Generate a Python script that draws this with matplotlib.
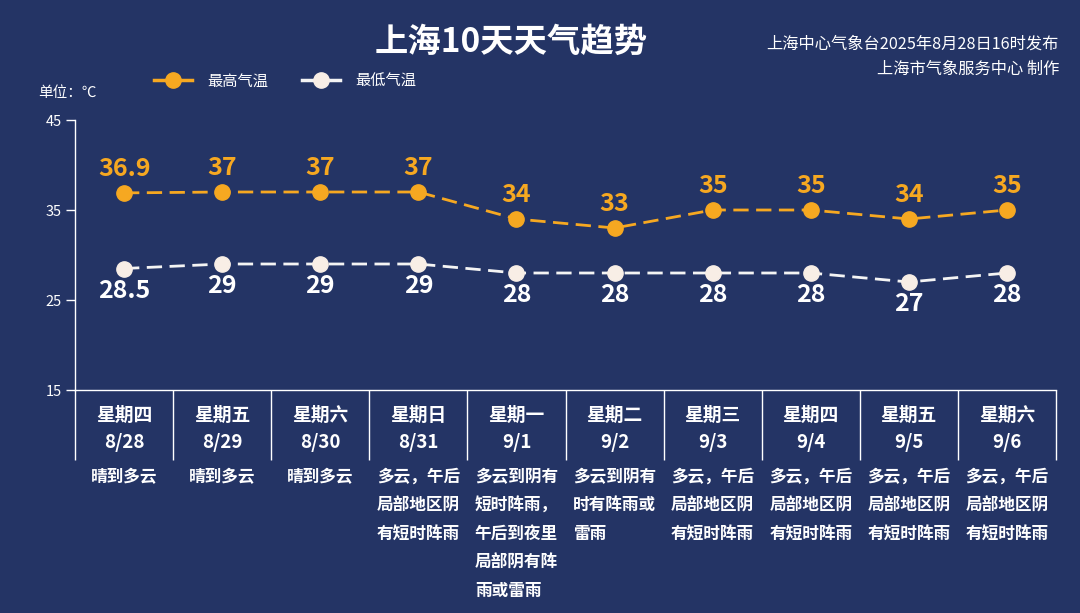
import matplotlib
matplotlib.use('Agg')
import matplotlib.pyplot as plt
import numpy as np
from matplotlib.lines import Line2D

plt.rcParams['font.family'] = ['Noto Sans CJK SC', 'DejaVu Sans']

# ---------------- data ----------------
weekdays = ['星期四', '星期五', '星期六', '星期日', '星期一',
            '星期二', '星期三', '星期四', '星期五', '星期六']
dates = ['8/28', '8/29', '8/30', '8/31', '9/1', '9/2', '9/3', '9/4', '9/5', '9/6']
weather = [
    '晴到多云',
    '晴到多云',
    '晴到多云',
    '多云，午后\n局部地区阴\n有短时阵雨',
    '多云到阴有\n短时阵雨，\n午后到夜里\n局部阴有阵\n雨或雷雨',
    '多云到阴有\n时有阵雨或\n雷雨',
    '多云，午后\n局部地区阴\n有短时阵雨',
    '多云，午后\n局部地区阴\n有短时阵雨',
    '多云，午后\n局部地区阴\n有短时阵雨',
    '多云，午后\n局部地区阴\n有短时阵雨',
]
high_temps = [36.9, 37, 37, 37, 34, 33, 35, 35, 34, 35]
low_temps = [28.5, 29, 29, 29, 28, 28, 28, 28, 27, 28]
y_ticks = [15, 25, 35, 45]
series_names = ['最高气温', '最低气温']
title = '上海10天天气趋势'
source_lines = ['上海中心气象台2025年8月28日16时发布', '上海市气象服务中心 制作']
unit_label = '单位：℃'

# ---------------- style ----------------
BG = '#243465'
ORANGE = '#F6A821'
LOW_LINE = '#F4F4F4'
LOW_MARK = '#F8EEE6'
WHITE = '#FFFFFF'

fig = plt.figure(figsize=(10.8, 6.13), dpi=100, facecolor=BG)
ax = fig.add_axes([75 / 1080, 223 / 613, 981 / 1080, 270 / 613])
ax.set_facecolor(BG)

x = np.arange(len(dates))
ax.plot(x, high_temps, color=ORANGE, lw=2, dashes=(5.5, 2.7),
        marker='o', ms=11, mfc=ORANGE, mec=ORANGE, zorder=3)
ax.plot(x, low_temps, color=LOW_LINE, lw=2, dashes=(5.5, 2.7),
        marker='o', ms=11, mfc=LOW_MARK, mec=LOW_MARK, zorder=3)

for xi, v in zip(x, high_temps):
    ax.annotate(f'{v:g}', (xi, v), xytext=(0, 17.5), textcoords='offset points',
                ha='center', va='center', color=ORANGE, fontsize=18,
                fontweight='bold')
for xi, v in zip(x, low_temps):
    ax.annotate(f'{v:g}', (xi, v), xytext=(0, -16), textcoords='offset points',
                ha='center', va='center', color=WHITE, fontsize=18,
                fontweight='bold')

ax.set_xlim(-0.5, len(dates) - 0.5)
ax.set_ylim(min(y_ticks), max(y_ticks))
ax.set_yticks(y_ticks)
ax.set_yticklabels([str(t) for t in y_ticks])
ax.tick_params(axis='y', direction='out', length=6.5, width=1, colors=WHITE,
               labelsize=10.5, pad=3)
ax.set_xticks(x)
ax.set_xticklabels([])
ax.tick_params(axis='x', which='major', length=0)
ax.set_xticks(np.arange(-0.5, len(dates), 1), minor=True)
ax.tick_params(axis='x', which='minor', direction='out', length=50.5,
               width=1, color=WHITE)

for s in ['top', 'right']:
    ax.spines[s].set_visible(False)
for s in ['left', 'bottom']:
    ax.spines[s].set_color(WHITE)
    ax.spines[s].set_linewidth(1)

# category labels
for xi, wd, dt, wx in zip(x, weekdays, dates, weather):
    ax.annotate(wd, (xi, 0), xycoords=('data', 'axes fraction'),
                xytext=(0, -18), textcoords='offset points',
                ha='center', va='center', color=WHITE, fontsize=13.5,
                fontweight='bold')
    ax.annotate(dt, (xi, 0), xycoords=('data', 'axes fraction'),
                xytext=(0, -37.5), textcoords='offset points',
                ha='center', va='center', color=WHITE, fontsize=13.5,
                fontweight='bold')
    ax.annotate(wx, (xi, 0), xycoords=('data', 'axes fraction'),
                xytext=(0, -56), textcoords='offset points',
                ha='center', va='top', multialignment='left', color=WHITE,
                fontsize=12, fontweight='bold', linespacing=1.75)

# title and texts
fig.text(511 / 1080, 1 - 42 / 613, title, ha='center', va='center',
         color=WHITE, fontsize=24, fontweight='bold')
fig.text(1059 / 1080, 1 - 44 / 613, source_lines[0], ha='right', va='center',
         color=WHITE, fontsize=11.7)
fig.text(1059 / 1080, 1 - 69 / 613, source_lines[1], ha='right', va='center',
         color=WHITE, fontsize=11.7)
fig.text(38 / 1080, 1 - 93 / 613, unit_label, ha='left', va='center',
         color=WHITE, fontsize=10.5)

handles = [
    Line2D([], [], color=ORANGE, lw=2.5, marker='o', ms=11, mfc=ORANGE, mec=ORANGE),
    Line2D([], [], color=LOW_LINE, lw=2.5, marker='o', ms=11, mfc=LOW_MARK, mec=LOW_MARK),
]
leg = fig.legend(handles, series_names, loc='center',
                 bbox_to_anchor=(285 / 1080, 1 - 81 / 613), ncol=2,
                 frameon=False, handlelength=2.5, handletextpad=1.0,
                 columnspacing=2.2, fontsize=11)
for t in leg.get_texts():
    t.set_color(WHITE)

fig.savefig('out.png', dpi=100, facecolor=BG)
